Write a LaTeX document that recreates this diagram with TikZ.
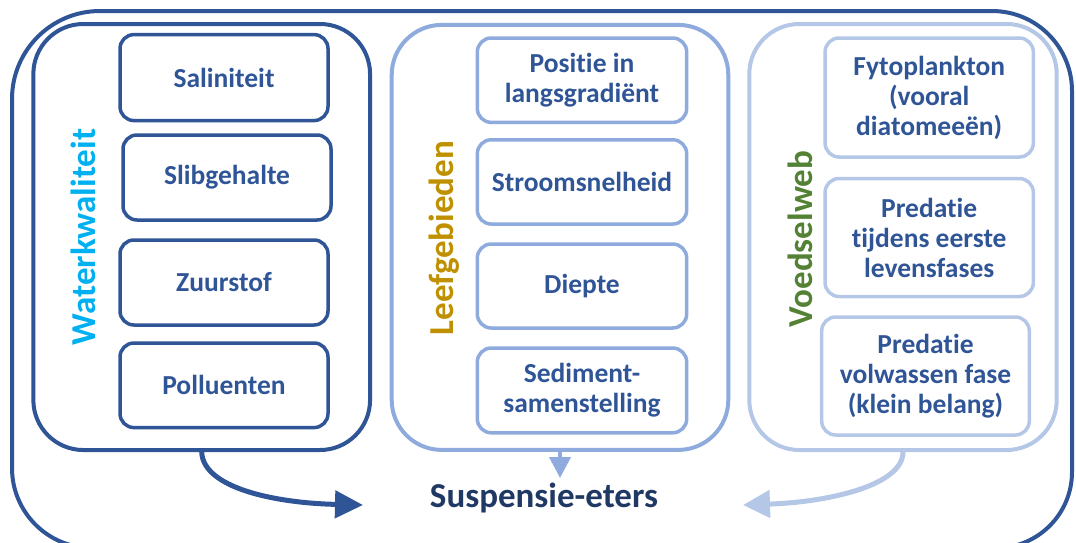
\documentclass[tikz,border=0pt]{standalone}
\usepackage{fontspec}
\setmainfont{Carlito}[Ligatures=NoCommon]
\usetikzlibrary{arrows.meta}
\definecolor{navy}{HTML}{2F5597}
\definecolor{deepnavy}{HTML}{203864}
\definecolor{midblue}{HTML}{8FAADC}
\definecolor{paleblue}{HTML}{B4C7E7}
\definecolor{cyantitle}{HTML}{00B0F0}
\definecolor{goldtitle}{HTML}{BF9000}
\definecolor{greentitle}{HTML}{548235}
\begin{document}
\begin{tikzpicture}[x=1pt,y=-1pt,
  group/.style={draw=#1, line width=4pt, rounded corners=50pt, inner sep=0pt},
  item/.style={draw=#1, line width=3.5pt, rounded corners=14pt, inner sep=0pt,
    font=\bfseries\fontsize{27.5}{30}\selectfont, text=navy, align=center},
  grouptitle/.style={rotate=90, anchor=base, inner sep=0pt,
    font=\bfseries\fontsize{35}{40}\selectfont},
  link/.style={line width=5pt}
]
\useasboundingbox (0,0) rectangle (1076,542);
\clip (0,0) rectangle (1076,542);

% outer frame: sides and top, the bottom corners run off the page
\draw[navy, line width=4pt]
  (92,548) [rounded corners=80pt] -| (12,300)
  [rounded corners=88pt] |- (540,11)
  [rounded corners=80pt] -| (1072,300)
  [rounded corners=76pt] |- (996,548);

% group frames
\node[group=navy, minimum width=336.7, minimum height=426] (wq) at (201.7,237) {};
\node[group=midblue, minimum width=336.6, minimum height=425] (lg) at (560,237.4) {};
\node[group=paleblue, minimum width=307.4, minimum height=426] (vw) at (903,237) {};

% group titles
\node[grouptitle, text=cyantitle] (wqt) at (95.5,237) {Waterkwaliteit};
\node[grouptitle, text=goldtitle] (lgt) at (453,238) {Leefgebieden};
\node[grouptitle, text=greentitle] (vwt) at (812,239) {Voedselweb};

% Waterkwaliteit factors
\node[item=navy, minimum width=208, minimum height=86] (sal) at (224,77.6) {Saliniteit};
\node[item=navy, minimum width=208, minimum height=85] (slib) at (227,177.5) {Slibgehalte};
\node[item=navy, minimum width=208, minimum height=85] (zuur) at (224,282.5) {Zuurstof};
\node[item=navy, minimum width=208, minimum height=84.6] (poll) at (224,385.3) {Polluenten};

% Leefgebieden factors
\node[item=midblue, minimum width=209.4, minimum height=84.4] (pos) at (582,80.2) {Positie in\\langsgradiënt};
\node[item=midblue, minimum width=209.4, minimum height=84.3] (strm) at (582,181.9) {Stroomsnelheid};
\node[item=midblue, minimum width=209.4, minimum height=84] (diep) at (582,286) {Diepte};
\node[item=midblue, minimum width=209.4, minimum height=84.8] (sed) at (582,390.4) {Sediment-\\samenstelling};

% Voedselweb factors
\node[item=paleblue, minimum width=208.3, minimum height=119] (fyto) at (929.2,97.5) {Fytoplankton\\(vooral\\diatomeeën)};
\node[item=paleblue, minimum width=208.3, minimum height=118] (pjong) at (929.2,237.5) {Predatie\\tijdens eerste\\levensfases};
\node[item=paleblue, minimum width=207.6, minimum height=118] (poud) at (925.5,376) {Predatie\\volwassen fase\\(klein belang)};

% central target
\node[anchor=base, inner sep=0pt, text=deepnavy,
  font=\bfseries\fontsize{35}{40}\selectfont] (se) at (544,507) {Suspensie-eters};

% arrow ends beside the target
\coordinate (wqend) at (363,505);
\coordinate (lgend) at (560,478);
\coordinate (vwend) at (743,505);

% influence arrows
\draw[link, navy, -{Triangle[length=28pt,width=27pt]}]
  (wq.south) .. controls (203,488) and (275,503) .. (wqend);
\draw[line width=4pt, midblue, -{Triangle[length=21pt,width=21pt]}]
  (lg.south) -- (lgend);
\draw[link, paleblue, -{Triangle[length=27pt,width=27pt]}]
  (vw.south) .. controls (903,485) and (830,502) .. (vwend);
\end{tikzpicture}
\end{document}
